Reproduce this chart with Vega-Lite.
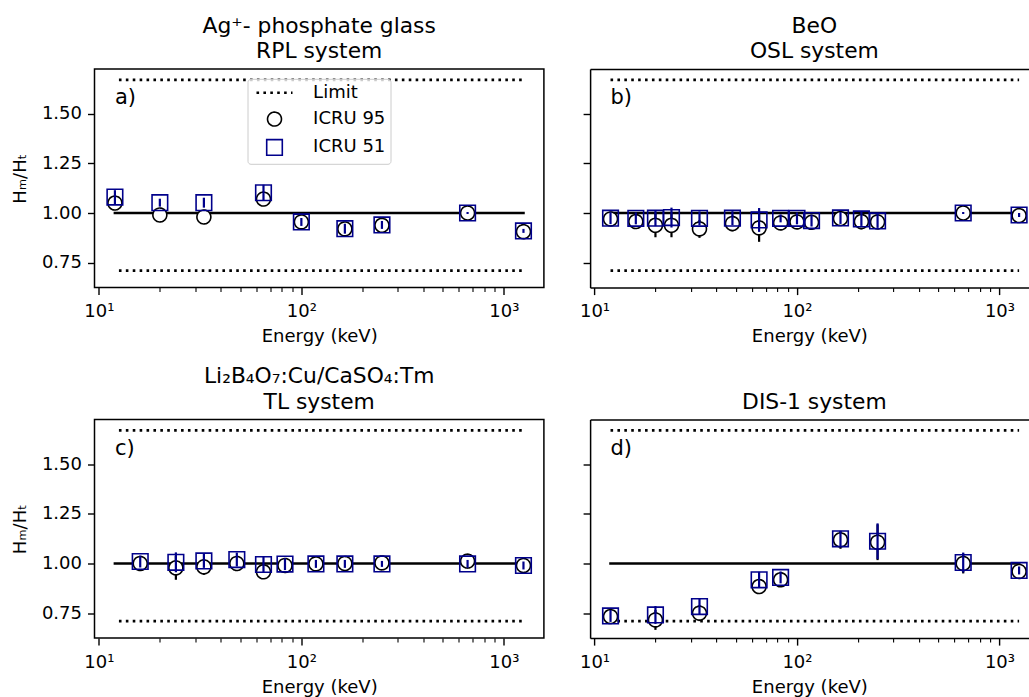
{
"$schema":"https://vega.github.io/schema/vega-lite/v6.json",
"padding":{"left":10.5,"top":14,"right":0,"bottom":0},
"background":"white",
"config":{
 "font":"DejaVu Sans",
 "view":{"stroke":"black","strokeWidth":1.5},
 "axis":{"labelFont":"DejaVu Sans","labelFontSize":18,"labelColor":"black","titleFont":"DejaVu Sans","titleFontSize":18,"titleFontWeight":"normal","titleColor":"black","tickColor":"black","tickSize":7,"tickWidth":1.4,"domainColor":"black","domainWidth":1.5,"grid":false,"domain":false,"labelPadding":6},
 "axisX":{"labelPadding":8,"titlePadding":7},
 "axisY":{"titlePadding":12},
 "title":{"font":"DejaVu Sans","fontSize":21.8,"fontWeight":"normal","color":"black","offset":6,"lineHeight":25.5,"anchor":"middle","frame":"group"},
 "legend":{"fillColor":"rgba(255,255,255,0.8)","strokeColor":"#cccccc","cornerRadius":3,"padding":5,"symbolOffset":13,"labelOffset":29.6,"rowPadding":6.3,"symbolSize":256,"labelFontSize":18,"labelFont":"DejaVu Sans","labelColor":"black","symbolStrokeWidth":1.6}
},
"datasets":{
 "lines":[
  {"panel":"a","kind":"ref","E":12,"E2":1250,"v":1},
  {"panel":"a","kind":"limit","E":12.56,"E2":1250,"v":1.67},
  {"panel":"a","kind":"limit","E":12.56,"E2":1250,"v":0.71},
  {"panel":"b","kind":"ref","E":12,"E2":1250,"v":1},
  {"panel":"b","kind":"limit","E":12,"E2":1250,"v":1.67},
  {"panel":"b","kind":"limit","E":12,"E2":1250,"v":0.71},
  {"panel":"c","kind":"ref","E":12,"E2":1250,"v":1},
  {"panel":"c","kind":"limit","E":12.56,"E2":1250,"v":1.67},
  {"panel":"c","kind":"limit","E":12.56,"E2":1250,"v":0.71},
  {"panel":"d","kind":"ref","E":12,"E2":1250,"v":1},
  {"panel":"d","kind":"limit","E":12,"E2":1250,"v":1.67},
  {"panel":"d","kind":"limit","E":12,"E2":1250,"v":0.71}
 ],
 "pts":[
  {"panel":"a","series":"ICRU 95","E":12,"v":1.05,"err":0.02},
  {"panel":"a","series":"ICRU 95","E":20,"v":0.99,"err":0.015},
  {"panel":"a","series":"ICRU 95","E":33,"v":0.98,"err":0.025},
  {"panel":"a","series":"ICRU 95","E":65,"v":1.07,"err":0.03},
  {"panel":"a","series":"ICRU 95","E":100,"v":0.955,"err":0.02},
  {"panel":"a","series":"ICRU 95","E":164,"v":0.92,"err":0.025},
  {"panel":"a","series":"ICRU 95","E":250,"v":0.938,"err":0.02},
  {"panel":"a","series":"ICRU 95","E":662,"v":1.0,"err":0.005},
  {"panel":"a","series":"ICRU 95","E":1250,"v":0.906,"err":0.01},
  {"panel":"a","series":"ICRU 51","E":12,"v":1.08,"err":0.035},
  {"panel":"a","series":"ICRU 51","E":20,"v":1.052,"err":0.02},
  {"panel":"a","series":"ICRU 51","E":33,"v":1.052,"err":0.025},
  {"panel":"a","series":"ICRU 51","E":65,"v":1.102,"err":0.04},
  {"panel":"a","series":"ICRU 51","E":100,"v":0.955,"err":0.02},
  {"panel":"a","series":"ICRU 51","E":164,"v":0.921,"err":0.025},
  {"panel":"a","series":"ICRU 51","E":250,"v":0.94,"err":0.02},
  {"panel":"a","series":"ICRU 51","E":662,"v":1.0,"err":0.005},
  {"panel":"a","series":"ICRU 51","E":1250,"v":0.91,"err":0.01},
  {"panel":"b","series":"ICRU 95","E":12,"v":0.97,"err":0.03},
  {"panel":"b","series":"ICRU 95","E":16,"v":0.957,"err":0.035},
  {"panel":"b","series":"ICRU 95","E":20,"v":0.938,"err":0.06},
  {"panel":"b","series":"ICRU 95","E":24,"v":0.938,"err":0.06},
  {"panel":"b","series":"ICRU 95","E":33,"v":0.92,"err":0.045},
  {"panel":"b","series":"ICRU 95","E":48,"v":0.947,"err":0.04},
  {"panel":"b","series":"ICRU 95","E":65,"v":0.925,"err":0.07},
  {"panel":"b","series":"ICRU 95","E":83,"v":0.95,"err":0.02},
  {"panel":"b","series":"ICRU 95","E":100,"v":0.955,"err":0.03},
  {"panel":"b","series":"ICRU 95","E":118,"v":0.953,"err":0.03},
  {"panel":"b","series":"ICRU 95","E":164,"v":0.972,"err":0.03},
  {"panel":"b","series":"ICRU 95","E":208,"v":0.957,"err":0.04},
  {"panel":"b","series":"ICRU 95","E":250,"v":0.955,"err":0.035},
  {"panel":"b","series":"ICRU 95","E":662,"v":1.0,"err":0.005},
  {"panel":"b","series":"ICRU 95","E":1250,"v":0.987,"err":0.01},
  {"panel":"b","series":"ICRU 51","E":12,"v":0.974,"err":0.03},
  {"panel":"b","series":"ICRU 51","E":16,"v":0.973,"err":0.03},
  {"panel":"b","series":"ICRU 51","E":20,"v":0.974,"err":0.04},
  {"panel":"b","series":"ICRU 51","E":24,"v":0.977,"err":0.05},
  {"panel":"b","series":"ICRU 51","E":33,"v":0.973,"err":0.035},
  {"panel":"b","series":"ICRU 51","E":48,"v":0.974,"err":0.035},
  {"panel":"b","series":"ICRU 51","E":65,"v":0.965,"err":0.06},
  {"panel":"b","series":"ICRU 51","E":83,"v":0.973,"err":0.02},
  {"panel":"b","series":"ICRU 51","E":100,"v":0.973,"err":0.03},
  {"panel":"b","series":"ICRU 51","E":118,"v":0.962,"err":0.03},
  {"panel":"b","series":"ICRU 51","E":164,"v":0.975,"err":0.03},
  {"panel":"b","series":"ICRU 51","E":208,"v":0.97,"err":0.035},
  {"panel":"b","series":"ICRU 51","E":250,"v":0.96,"err":0.035},
  {"panel":"b","series":"ICRU 51","E":662,"v":1.0,"err":0.005},
  {"panel":"b","series":"ICRU 51","E":1250,"v":0.99,"err":0.01},
  {"panel":"c","series":"ICRU 95","E":16,"v":1.0,"err":0.03},
  {"panel":"c","series":"ICRU 95","E":24,"v":0.978,"err":0.06},
  {"panel":"c","series":"ICRU 95","E":33,"v":0.983,"err":0.04},
  {"panel":"c","series":"ICRU 95","E":48,"v":1.0,"err":0.03},
  {"panel":"c","series":"ICRU 95","E":65,"v":0.958,"err":0.035},
  {"panel":"c","series":"ICRU 95","E":83,"v":0.99,"err":0.035},
  {"panel":"c","series":"ICRU 95","E":118,"v":0.998,"err":0.02},
  {"panel":"c","series":"ICRU 95","E":164,"v":1.0,"err":0.02},
  {"panel":"c","series":"ICRU 95","E":250,"v":1.003,"err":0.015},
  {"panel":"c","series":"ICRU 95","E":662,"v":1.012,"err":0.02},
  {"panel":"c","series":"ICRU 95","E":1250,"v":0.99,"err":0.02},
  {"panel":"c","series":"ICRU 51","E":16,"v":1.01,"err":0.03},
  {"panel":"c","series":"ICRU 51","E":24,"v":1.006,"err":0.05},
  {"panel":"c","series":"ICRU 51","E":33,"v":1.013,"err":0.035},
  {"panel":"c","series":"ICRU 51","E":48,"v":1.02,"err":0.035},
  {"panel":"c","series":"ICRU 51","E":65,"v":0.995,"err":0.04},
  {"panel":"c","series":"ICRU 51","E":83,"v":0.997,"err":0.03},
  {"panel":"c","series":"ICRU 51","E":118,"v":0.998,"err":0.02},
  {"panel":"c","series":"ICRU 51","E":164,"v":0.998,"err":0.02},
  {"panel":"c","series":"ICRU 51","E":250,"v":0.998,"err":0.015},
  {"panel":"c","series":"ICRU 51","E":662,"v":0.998,"err":0.02},
  {"panel":"c","series":"ICRU 51","E":1250,"v":0.99,"err":0.02},
  {"panel":"d","series":"ICRU 95","E":12,"v":0.733,"err":0.03},
  {"panel":"d","series":"ICRU 95","E":20,"v":0.716,"err":0.05},
  {"panel":"d","series":"ICRU 95","E":33,"v":0.75,"err":0.04},
  {"panel":"d","series":"ICRU 95","E":65,"v":0.884,"err":0.035},
  {"panel":"d","series":"ICRU 95","E":83,"v":0.918,"err":0.025},
  {"panel":"d","series":"ICRU 95","E":164,"v":1.119,"err":0.045},
  {"panel":"d","series":"ICRU 95","E":250,"v":1.107,"err":0.09},
  {"panel":"d","series":"ICRU 95","E":662,"v":1.0,"err":0.05},
  {"panel":"d","series":"ICRU 95","E":1250,"v":0.96,"err":0.02},
  {"panel":"d","series":"ICRU 51","E":12,"v":0.736,"err":0.03},
  {"panel":"d","series":"ICRU 51","E":20,"v":0.741,"err":0.045},
  {"panel":"d","series":"ICRU 51","E":33,"v":0.783,"err":0.042},
  {"panel":"d","series":"ICRU 51","E":65,"v":0.918,"err":0.04},
  {"panel":"d","series":"ICRU 51","E":83,"v":0.93,"err":0.03},
  {"panel":"d","series":"ICRU 51","E":164,"v":1.124,"err":0.04},
  {"panel":"d","series":"ICRU 51","E":250,"v":1.112,"err":0.09},
  {"panel":"d","series":"ICRU 51","E":662,"v":1.005,"err":0.05},
  {"panel":"d","series":"ICRU 51","E":1250,"v":0.965,"err":0.02}
 ]
},
"columns":2,
"spacing":{"row":131.5,"column":45.6},
"bounds":"flush",
"concat":[
 {"width":449.4,"height":218.6,
  "title":{"text":["Ag⁺- phosphate glass","RPL system"]},
  "layer":[
   {"data":{"name":"lines"},"transform":[{"filter":"datum.panel=='a' && datum.kind=='ref'"}],
    "mark":{"type":"rule","color":"black","strokeWidth":2.6,"strokeCap":"square"},
    "encoding":{"x":{"field":"E","type":"quantitative","title":"Energy (keV)","scale":{"type":"log","domain":[9.513,1577],"nice":false},
      "axis":{"values":[10,20,30,40,50,60,70,80,90,100,200,300,400,500,600,700,800,900,1000],"labelExpr":"datum.value==10?'10¹':datum.value==100?'10²':datum.value==1000?'10³':''","labelFlush":false,"labelOverlap":false,"tickSize":{"condition":{"test":"datum.value==10||datum.value==100||datum.value==1000","value":7},"value":4},"tickWidth":{"condition":{"test":"datum.value==10||datum.value==100||datum.value==1000","value":1.4},"value":1.1}}},
     "x2":{"field":"E2"},
     "y":{"field":"v","type":"quantitative","title":"Hₘ/Hₜ","scale":{"domain":[0.6246,1.7247],"nice":false,"zero":false},"axis":{"values":[0.75,1,1.25,1.5],"format":".2f"}}}},
   {"data":{"name":"lines"},"transform":[{"filter":"datum.panel=='a' && datum.kind=='limit'"}],
    "mark":{"type":"rule","color":"black","strokeWidth":2.6,"strokeDash":[2.6,4.3]},
    "encoding":{"x":{"field":"E","type":"quantitative","title":"Energy (keV)","scale":{"type":"log","domain":[9.513,1577],"nice":false}},"x2":{"field":"E2"},
     "y":{"field":"v","type":"quantitative","title":"Hₘ/Hₜ","scale":{"domain":[0.6246,1.7247],"nice":false,"zero":false}}}},
   {"data":{"name":"pts"},"transform":[{"filter":"datum.panel=='a' && datum.series=='ICRU 95'"}],
    "mark":{"type":"errorbar","color":"black","thickness":2.2},
    "encoding":{"x":{"field":"E","type":"quantitative","title":"Energy (keV)","scale":{"type":"log","domain":[9.513,1577],"nice":false}},
     "y":{"field":"v","type":"quantitative","title":"Hₘ/Hₜ","scale":{"domain":[0.6246,1.7247],"nice":false,"zero":false}},"yError":{"field":"err"}}},
   {"data":{"name":"pts"},"transform":[{"filter":"datum.panel=='a' && datum.series=='ICRU 95'"}],
    "mark":{"type":"point","filled":false,"fill":"white","opacity":1,"size":256,"strokeWidth":1.6},
    "encoding":{"x":{"field":"E","type":"quantitative","title":"Energy (keV)","scale":{"type":"log","domain":[9.513,1577],"nice":false}},
     "y":{"field":"v","type":"quantitative","title":"Hₘ/Hₜ","scale":{"domain":[0.6246,1.7247],"nice":false,"zero":false}},
     "stroke":{"field":"series","type":"nominal","scale":{"domain":["Limit","ICRU 95","ICRU 51"],"range":["black","black","#00008b"]},"legend":{"title":null,"orient":"none","legendX":153,"legendY":9.8}},
     "shape":{"field":"series","type":"nominal","scale":{"domain":["Limit","ICRU 95","ICRU 51"],"range":["M-2.25,-0.05H2.25M-2.25,0.05H2.25","M0,-0.87A0.87,0.87,0,1,1,0,0.87A0.87,0.87,0,1,1,0,-0.87Z","M-0.975,-0.975H0.975V0.975H-0.975Z"]},"legend":{"title":null,"orient":"none","legendX":153,"legendY":9.8}},
     "strokeDash":{"field":"series","type":"nominal","scale":{"domain":["Limit","ICRU 95","ICRU 51"],"range":[[2.6,4.3],[1,0],[1,0]]},"legend":{"title":null,"orient":"none","legendX":153,"legendY":9.8}}}},
   {"data":{"name":"pts"},"transform":[{"filter":"datum.panel=='a' && datum.series=='ICRU 51'"}],
    "mark":{"type":"errorbar","color":"#00008b","thickness":2.2},
    "encoding":{"x":{"field":"E","type":"quantitative","title":"Energy (keV)","scale":{"type":"log","domain":[9.513,1577],"nice":false}},
     "y":{"field":"v","type":"quantitative","title":"Hₘ/Hₜ","scale":{"domain":[0.6246,1.7247],"nice":false,"zero":false}},"yError":{"field":"err"}}},
   {"data":{"name":"pts"},"transform":[{"filter":"datum.panel=='a' && datum.series=='ICRU 51'"}],
    "mark":{"type":"point","filled":false,"opacity":1,"size":256,"strokeWidth":1.6},
    "encoding":{"x":{"field":"E","type":"quantitative","title":"Energy (keV)","scale":{"type":"log","domain":[9.513,1577],"nice":false}},
     "y":{"field":"v","type":"quantitative","title":"Hₘ/Hₜ","scale":{"domain":[0.6246,1.7247],"nice":false,"zero":false}},
     "stroke":{"field":"series","type":"nominal","scale":{"domain":["Limit","ICRU 95","ICRU 51"],"range":["black","black","#00008b"]},"legend":{"title":null,"orient":"none","legendX":153,"legendY":9.8}},
     "shape":{"field":"series","type":"nominal","scale":{"domain":["Limit","ICRU 95","ICRU 51"],"range":["M-2.25,-0.05H2.25M-2.25,0.05H2.25","M0,-0.87A0.87,0.87,0,1,1,0,0.87A0.87,0.87,0,1,1,0,-0.87Z","M-0.975,-0.975H0.975V0.975H-0.975Z"]},"legend":{"title":null,"orient":"none","legendX":153,"legendY":9.8}},
     "strokeDash":{"field":"series","type":"nominal","scale":{"domain":["Limit","ICRU 95","ICRU 51"],"range":[[2.6,4.3],[1,0],[1,0]]},"legend":{"title":null,"orient":"none","legendX":153,"legendY":9.8}}}},
   {"data":{"values":[{"t":"a)"}]},
    "mark":{"type":"text","align":"left","baseline":"alphabetic","fontSize":21,"font":"DejaVu Sans","color":"black"},
    "encoding":{"x":{"datum":12,"type":"quantitative","title":"Energy (keV)","scale":{"type":"log","domain":[9.513,1577],"nice":false}},
     "y":{"datum":1.547,"type":"quantitative","title":"Hₘ/Hₜ","scale":{"domain":[0.6246,1.7247],"nice":false,"zero":false}},"text":{"field":"t"}}}
  ]},
 {"width":438.5,"height":218.6,
  "view":{"stroke":null},
  "title":{"text":["BeO","OSL system"],"dx":5},
  "resolve":{"axis":{"x":"independent"}},
  "layer":[
   {"data":{"name":"lines"},"transform":[{"filter":"datum.panel=='b' && datum.kind=='ref'"}],
    "mark":{"type":"rule","color":"black","strokeWidth":2.6,"strokeCap":"square"},
    "encoding":{"x":{"field":"E","type":"quantitative","title":"Energy (keV)","scale":{"type":"log","domain":[9.513,1392.6],"nice":false},
      "axis":{"values":[10,20,30,40,50,60,70,80,90,100,200,300,400,500,600,700,800,900,1000],"labelExpr":"datum.value==10?'10¹':datum.value==100?'10²':datum.value==1000?'10³':''","labelFlush":false,"labelOverlap":false,"domain":true,"tickSize":{"condition":{"test":"datum.value==10||datum.value==100||datum.value==1000","value":7},"value":4},"tickWidth":{"condition":{"test":"datum.value==10||datum.value==100||datum.value==1000","value":1.4},"value":1.1}}},
     "x2":{"field":"E2"},
     "y":{"field":"v","type":"quantitative","title":null,"scale":{"domain":[0.6246,1.7247],"nice":false,"zero":false},"axis":{"values":[0.75,1,1.25,1.5],"labels":false,"domain":true}}}},
   {"data":{"name":"lines"},"transform":[{"filter":"datum.panel=='b' && datum.kind=='limit'"}],
    "mark":{"type":"rule","color":"black","strokeWidth":2.6,"strokeDash":[2.6,4.3]},
    "encoding":{"x":{"field":"E","type":"quantitative","title":null,"scale":{"type":"log","domain":[9.513,1392.6],"nice":false},"axis":{"orient":"top","labels":false,"ticks":false,"domain":true}},"x2":{"field":"E2"},
     "y":{"field":"v","type":"quantitative","title":null,"scale":{"domain":[0.6246,1.7247],"nice":false,"zero":false}}}},
   {"data":{"name":"pts"},"transform":[{"filter":"datum.panel=='b' && datum.series=='ICRU 95'"}],
    "mark":{"type":"errorbar","color":"black","thickness":2.2},
    "encoding":{"x":{"field":"E","type":"quantitative","scale":{"type":"log","domain":[9.513,1392.6],"nice":false},"axis":null},
     "y":{"field":"v","type":"quantitative","title":null,"scale":{"domain":[0.6246,1.7247],"nice":false,"zero":false}},"yError":{"field":"err"}}},
   {"data":{"name":"pts"},"transform":[{"filter":"datum.panel=='b' && datum.series=='ICRU 95'"}],
    "mark":{"type":"point","filled":false,"fill":"white","opacity":1,"size":256,"strokeWidth":1.6},
    "encoding":{"x":{"field":"E","type":"quantitative","scale":{"type":"log","domain":[9.513,1392.6],"nice":false},"axis":null},
     "y":{"field":"v","type":"quantitative","title":null,"scale":{"domain":[0.6246,1.7247],"nice":false,"zero":false}},
     "stroke":{"field":"series","type":"nominal","scale":{"domain":["Limit","ICRU 95","ICRU 51"],"range":["black","black","#00008b"]},"legend":{"title":null,"orient":"none","legendX":153,"legendY":9.8}},
     "shape":{"field":"series","type":"nominal","scale":{"domain":["Limit","ICRU 95","ICRU 51"],"range":["M-2.25,-0.05H2.25M-2.25,0.05H2.25","M0,-0.87A0.87,0.87,0,1,1,0,0.87A0.87,0.87,0,1,1,0,-0.87Z","M-0.975,-0.975H0.975V0.975H-0.975Z"]},"legend":{"title":null,"orient":"none","legendX":153,"legendY":9.8}},
     "strokeDash":{"field":"series","type":"nominal","scale":{"domain":["Limit","ICRU 95","ICRU 51"],"range":[[2.6,4.3],[1,0],[1,0]]},"legend":{"title":null,"orient":"none","legendX":153,"legendY":9.8}}}},
   {"data":{"name":"pts"},"transform":[{"filter":"datum.panel=='b' && datum.series=='ICRU 51'"}],
    "mark":{"type":"errorbar","color":"#00008b","thickness":2.2},
    "encoding":{"x":{"field":"E","type":"quantitative","scale":{"type":"log","domain":[9.513,1392.6],"nice":false},"axis":null},
     "y":{"field":"v","type":"quantitative","title":null,"scale":{"domain":[0.6246,1.7247],"nice":false,"zero":false}},"yError":{"field":"err"}}},
   {"data":{"name":"pts"},"transform":[{"filter":"datum.panel=='b' && datum.series=='ICRU 51'"}],
    "mark":{"type":"point","filled":false,"opacity":1,"size":256,"strokeWidth":1.6},
    "encoding":{"x":{"field":"E","type":"quantitative","scale":{"type":"log","domain":[9.513,1392.6],"nice":false},"axis":null},
     "y":{"field":"v","type":"quantitative","title":null,"scale":{"domain":[0.6246,1.7247],"nice":false,"zero":false}},
     "stroke":{"field":"series","type":"nominal","scale":{"domain":["Limit","ICRU 95","ICRU 51"],"range":["black","black","#00008b"]},"legend":{"title":null,"orient":"none","legendX":153,"legendY":9.8}},
     "shape":{"field":"series","type":"nominal","scale":{"domain":["Limit","ICRU 95","ICRU 51"],"range":["M-2.25,-0.05H2.25M-2.25,0.05H2.25","M0,-0.87A0.87,0.87,0,1,1,0,0.87A0.87,0.87,0,1,1,0,-0.87Z","M-0.975,-0.975H0.975V0.975H-0.975Z"]},"legend":{"title":null,"orient":"none","legendX":153,"legendY":9.8}},
     "strokeDash":{"field":"series","type":"nominal","scale":{"domain":["Limit","ICRU 95","ICRU 51"],"range":[[2.6,4.3],[1,0],[1,0]]},"legend":{"title":null,"orient":"none","legendX":153,"legendY":9.8}}}},
   {"data":{"values":[{"t":"b)"}]},
    "mark":{"type":"text","align":"left","baseline":"alphabetic","fontSize":21,"font":"DejaVu Sans","color":"black"},
    "encoding":{"x":{"datum":12,"type":"quantitative","scale":{"type":"log","domain":[9.513,1392.6],"nice":false},"axis":null},
     "y":{"datum":1.547,"type":"quantitative","title":null,"scale":{"domain":[0.6246,1.7247],"nice":false,"zero":false}},"text":{"field":"t"}}}
  ]},
 {"width":449.4,"height":218.6,
  "title":{"text":["Li₂B₄O₇:Cu/CaSO₄:Tm","TL system"]},
  "layer":[
   {"data":{"name":"lines"},"transform":[{"filter":"datum.panel=='c' && datum.kind=='ref'"}],
    "mark":{"type":"rule","color":"black","strokeWidth":2.6,"strokeCap":"square"},
    "encoding":{"x":{"field":"E","type":"quantitative","title":"Energy (keV)","scale":{"type":"log","domain":[9.513,1577],"nice":false},
      "axis":{"values":[10,20,30,40,50,60,70,80,90,100,200,300,400,500,600,700,800,900,1000],"labelExpr":"datum.value==10?'10¹':datum.value==100?'10²':datum.value==1000?'10³':''","labelFlush":false,"labelOverlap":false,"tickSize":{"condition":{"test":"datum.value==10||datum.value==100||datum.value==1000","value":7},"value":4},"tickWidth":{"condition":{"test":"datum.value==10||datum.value==100||datum.value==1000","value":1.4},"value":1.1}}},
     "x2":{"field":"E2"},
     "y":{"field":"v","type":"quantitative","title":"Hₘ/Hₜ","scale":{"domain":[0.6246,1.7247],"nice":false,"zero":false},"axis":{"values":[0.75,1,1.25,1.5],"format":".2f"}}}},
   {"data":{"name":"lines"},"transform":[{"filter":"datum.panel=='c' && datum.kind=='limit'"}],
    "mark":{"type":"rule","color":"black","strokeWidth":2.6,"strokeDash":[2.6,4.3]},
    "encoding":{"x":{"field":"E","type":"quantitative","title":"Energy (keV)","scale":{"type":"log","domain":[9.513,1577],"nice":false}},"x2":{"field":"E2"},
     "y":{"field":"v","type":"quantitative","title":"Hₘ/Hₜ","scale":{"domain":[0.6246,1.7247],"nice":false,"zero":false}}}},
   {"data":{"name":"pts"},"transform":[{"filter":"datum.panel=='c' && datum.series=='ICRU 95'"}],
    "mark":{"type":"errorbar","color":"black","thickness":2.2},
    "encoding":{"x":{"field":"E","type":"quantitative","title":"Energy (keV)","scale":{"type":"log","domain":[9.513,1577],"nice":false}},
     "y":{"field":"v","type":"quantitative","title":"Hₘ/Hₜ","scale":{"domain":[0.6246,1.7247],"nice":false,"zero":false}},"yError":{"field":"err"}}},
   {"data":{"name":"pts"},"transform":[{"filter":"datum.panel=='c' && datum.series=='ICRU 95'"}],
    "mark":{"type":"point","filled":false,"fill":"white","opacity":1,"size":256,"strokeWidth":1.6},
    "encoding":{"x":{"field":"E","type":"quantitative","title":"Energy (keV)","scale":{"type":"log","domain":[9.513,1577],"nice":false}},
     "y":{"field":"v","type":"quantitative","title":"Hₘ/Hₜ","scale":{"domain":[0.6246,1.7247],"nice":false,"zero":false}},
     "stroke":{"field":"series","type":"nominal","scale":{"domain":["Limit","ICRU 95","ICRU 51"],"range":["black","black","#00008b"]},"legend":{"title":null,"orient":"none","legendX":153,"legendY":9.8}},
     "shape":{"field":"series","type":"nominal","scale":{"domain":["Limit","ICRU 95","ICRU 51"],"range":["M-2.25,-0.05H2.25M-2.25,0.05H2.25","M0,-0.87A0.87,0.87,0,1,1,0,0.87A0.87,0.87,0,1,1,0,-0.87Z","M-0.975,-0.975H0.975V0.975H-0.975Z"]},"legend":{"title":null,"orient":"none","legendX":153,"legendY":9.8}},
     "strokeDash":{"field":"series","type":"nominal","scale":{"domain":["Limit","ICRU 95","ICRU 51"],"range":[[2.6,4.3],[1,0],[1,0]]},"legend":{"title":null,"orient":"none","legendX":153,"legendY":9.8}}}},
   {"data":{"name":"pts"},"transform":[{"filter":"datum.panel=='c' && datum.series=='ICRU 51'"}],
    "mark":{"type":"errorbar","color":"#00008b","thickness":2.2},
    "encoding":{"x":{"field":"E","type":"quantitative","title":"Energy (keV)","scale":{"type":"log","domain":[9.513,1577],"nice":false}},
     "y":{"field":"v","type":"quantitative","title":"Hₘ/Hₜ","scale":{"domain":[0.6246,1.7247],"nice":false,"zero":false}},"yError":{"field":"err"}}},
   {"data":{"name":"pts"},"transform":[{"filter":"datum.panel=='c' && datum.series=='ICRU 51'"}],
    "mark":{"type":"point","filled":false,"opacity":1,"size":256,"strokeWidth":1.6},
    "encoding":{"x":{"field":"E","type":"quantitative","title":"Energy (keV)","scale":{"type":"log","domain":[9.513,1577],"nice":false}},
     "y":{"field":"v","type":"quantitative","title":"Hₘ/Hₜ","scale":{"domain":[0.6246,1.7247],"nice":false,"zero":false}},
     "stroke":{"field":"series","type":"nominal","scale":{"domain":["Limit","ICRU 95","ICRU 51"],"range":["black","black","#00008b"]},"legend":{"title":null,"orient":"none","legendX":153,"legendY":9.8}},
     "shape":{"field":"series","type":"nominal","scale":{"domain":["Limit","ICRU 95","ICRU 51"],"range":["M-2.25,-0.05H2.25M-2.25,0.05H2.25","M0,-0.87A0.87,0.87,0,1,1,0,0.87A0.87,0.87,0,1,1,0,-0.87Z","M-0.975,-0.975H0.975V0.975H-0.975Z"]},"legend":{"title":null,"orient":"none","legendX":153,"legendY":9.8}},
     "strokeDash":{"field":"series","type":"nominal","scale":{"domain":["Limit","ICRU 95","ICRU 51"],"range":[[2.6,4.3],[1,0],[1,0]]},"legend":{"title":null,"orient":"none","legendX":153,"legendY":9.8}}}},
   {"data":{"values":[{"t":"c)"}]},
    "mark":{"type":"text","align":"left","baseline":"alphabetic","fontSize":21,"font":"DejaVu Sans","color":"black"},
    "encoding":{"x":{"datum":12,"type":"quantitative","title":"Energy (keV)","scale":{"type":"log","domain":[9.513,1577],"nice":false}},
     "y":{"datum":1.547,"type":"quantitative","title":"Hₘ/Hₜ","scale":{"domain":[0.6246,1.7247],"nice":false,"zero":false}},"text":{"field":"t"}}}
  ]},
 {"width":438.5,"height":218.6,
  "view":{"stroke":null},
  "title":{"text":"DIS-1 system","dx":5},
  "resolve":{"axis":{"x":"independent"}},
  "layer":[
   {"data":{"name":"lines"},"transform":[{"filter":"datum.panel=='d' && datum.kind=='ref'"}],
    "mark":{"type":"rule","color":"black","strokeWidth":2.6,"strokeCap":"square"},
    "encoding":{"x":{"field":"E","type":"quantitative","title":"Energy (keV)","scale":{"type":"log","domain":[9.513,1392.6],"nice":false},
      "axis":{"values":[10,20,30,40,50,60,70,80,90,100,200,300,400,500,600,700,800,900,1000],"labelExpr":"datum.value==10?'10¹':datum.value==100?'10²':datum.value==1000?'10³':''","labelFlush":false,"labelOverlap":false,"domain":true,"tickSize":{"condition":{"test":"datum.value==10||datum.value==100||datum.value==1000","value":7},"value":4},"tickWidth":{"condition":{"test":"datum.value==10||datum.value==100||datum.value==1000","value":1.4},"value":1.1}}},
     "x2":{"field":"E2"},
     "y":{"field":"v","type":"quantitative","title":null,"scale":{"domain":[0.6246,1.7247],"nice":false,"zero":false},"axis":{"values":[0.75,1,1.25,1.5],"labels":false,"domain":true}}}},
   {"data":{"name":"lines"},"transform":[{"filter":"datum.panel=='d' && datum.kind=='limit'"}],
    "mark":{"type":"rule","color":"black","strokeWidth":2.6,"strokeDash":[2.6,4.3]},
    "encoding":{"x":{"field":"E","type":"quantitative","title":null,"scale":{"type":"log","domain":[9.513,1392.6],"nice":false},"axis":{"orient":"top","labels":false,"ticks":false,"domain":true}},"x2":{"field":"E2"},
     "y":{"field":"v","type":"quantitative","title":null,"scale":{"domain":[0.6246,1.7247],"nice":false,"zero":false}}}},
   {"data":{"name":"pts"},"transform":[{"filter":"datum.panel=='d' && datum.series=='ICRU 95'"}],
    "mark":{"type":"errorbar","color":"black","thickness":2.2},
    "encoding":{"x":{"field":"E","type":"quantitative","scale":{"type":"log","domain":[9.513,1392.6],"nice":false},"axis":null},
     "y":{"field":"v","type":"quantitative","title":null,"scale":{"domain":[0.6246,1.7247],"nice":false,"zero":false}},"yError":{"field":"err"}}},
   {"data":{"name":"pts"},"transform":[{"filter":"datum.panel=='d' && datum.series=='ICRU 95'"}],
    "mark":{"type":"point","filled":false,"fill":"white","opacity":1,"size":256,"strokeWidth":1.6},
    "encoding":{"x":{"field":"E","type":"quantitative","scale":{"type":"log","domain":[9.513,1392.6],"nice":false},"axis":null},
     "y":{"field":"v","type":"quantitative","title":null,"scale":{"domain":[0.6246,1.7247],"nice":false,"zero":false}},
     "stroke":{"field":"series","type":"nominal","scale":{"domain":["Limit","ICRU 95","ICRU 51"],"range":["black","black","#00008b"]},"legend":{"title":null,"orient":"none","legendX":153,"legendY":9.8}},
     "shape":{"field":"series","type":"nominal","scale":{"domain":["Limit","ICRU 95","ICRU 51"],"range":["M-2.25,-0.05H2.25M-2.25,0.05H2.25","M0,-0.87A0.87,0.87,0,1,1,0,0.87A0.87,0.87,0,1,1,0,-0.87Z","M-0.975,-0.975H0.975V0.975H-0.975Z"]},"legend":{"title":null,"orient":"none","legendX":153,"legendY":9.8}},
     "strokeDash":{"field":"series","type":"nominal","scale":{"domain":["Limit","ICRU 95","ICRU 51"],"range":[[2.6,4.3],[1,0],[1,0]]},"legend":{"title":null,"orient":"none","legendX":153,"legendY":9.8}}}},
   {"data":{"name":"pts"},"transform":[{"filter":"datum.panel=='d' && datum.series=='ICRU 51'"}],
    "mark":{"type":"errorbar","color":"#00008b","thickness":2.2},
    "encoding":{"x":{"field":"E","type":"quantitative","scale":{"type":"log","domain":[9.513,1392.6],"nice":false},"axis":null},
     "y":{"field":"v","type":"quantitative","title":null,"scale":{"domain":[0.6246,1.7247],"nice":false,"zero":false}},"yError":{"field":"err"}}},
   {"data":{"name":"pts"},"transform":[{"filter":"datum.panel=='d' && datum.series=='ICRU 51'"}],
    "mark":{"type":"point","filled":false,"opacity":1,"size":256,"strokeWidth":1.6},
    "encoding":{"x":{"field":"E","type":"quantitative","scale":{"type":"log","domain":[9.513,1392.6],"nice":false},"axis":null},
     "y":{"field":"v","type":"quantitative","title":null,"scale":{"domain":[0.6246,1.7247],"nice":false,"zero":false}},
     "stroke":{"field":"series","type":"nominal","scale":{"domain":["Limit","ICRU 95","ICRU 51"],"range":["black","black","#00008b"]},"legend":{"title":null,"orient":"none","legendX":153,"legendY":9.8}},
     "shape":{"field":"series","type":"nominal","scale":{"domain":["Limit","ICRU 95","ICRU 51"],"range":["M-2.25,-0.05H2.25M-2.25,0.05H2.25","M0,-0.87A0.87,0.87,0,1,1,0,0.87A0.87,0.87,0,1,1,0,-0.87Z","M-0.975,-0.975H0.975V0.975H-0.975Z"]},"legend":{"title":null,"orient":"none","legendX":153,"legendY":9.8}},
     "strokeDash":{"field":"series","type":"nominal","scale":{"domain":["Limit","ICRU 95","ICRU 51"],"range":[[2.6,4.3],[1,0],[1,0]]},"legend":{"title":null,"orient":"none","legendX":153,"legendY":9.8}}}},
   {"data":{"values":[{"t":"d)"}]},
    "mark":{"type":"text","align":"left","baseline":"alphabetic","fontSize":21,"font":"DejaVu Sans","color":"black"},
    "encoding":{"x":{"datum":12,"type":"quantitative","scale":{"type":"log","domain":[9.513,1392.6],"nice":false},"axis":null},
     "y":{"datum":1.547,"type":"quantitative","title":null,"scale":{"domain":[0.6246,1.7247],"nice":false,"zero":false}},"text":{"field":"t"}}}
  ]}
]
}
